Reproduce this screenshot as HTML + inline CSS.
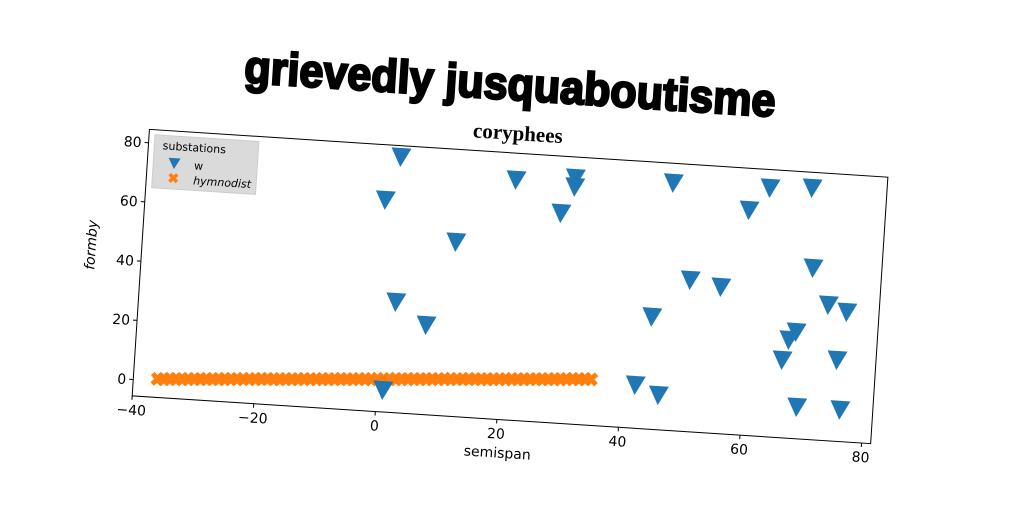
<!DOCTYPE html>
<html><head><meta charset="utf-8"><style>
html,body{margin:0;padding:0;background:#fff;width:1024px;height:512px;overflow:hidden}
svg{display:block;font-family:"DejaVu Sans","Liberation Sans",sans-serif}
</style></head><body>
<svg id="chart" width="1024" height="512" viewBox="0 0 1024 512">
<g id="rot" transform="rotate(3.7 510 287)">
<text x="497" y="100" text-anchor="middle" font-family="Liberation Sans,sans-serif" font-weight="bold" font-size="46" textLength="532" lengthAdjust="spacingAndGlyphs" stroke="#000" stroke-width="2.4">grievedly jusquaboutisme</text>
<text x="508" y="140" text-anchor="middle" font-family="Liberation Serif,serif" font-weight="bold" font-size="21">coryphees</text>
<rect x="140" y="153" width="740" height="267" fill="none" stroke="#000" stroke-width="1"/>
<g id="xticks"></g>
<g id="yticks"></g>
<g id="marks"></g>
<text x="508" y="458" text-anchor="middle" font-size="14">semispan</text>
<text x="0" y="0" transform="translate(94 272) rotate(-90)" text-anchor="middle" font-size="14" font-style="italic">formby</text>
<g>
<rect x="146" y="158" width="104" height="53" fill="#d6d6d6" fill-opacity="0.9" stroke="#ccc"/>
<text x="186" y="172" text-anchor="middle" font-size="11">substations</text>
<path d="M161,180 L173,180 L167,191 Z" fill="#1f77b4"/>
<text x="187" y="190" font-size="11">w</text>
<path id="lgx" fill="#ff7f0e"/>
<text x="187" y="205" font-size="11" font-style="italic">hymnodist</text>
</g>
</g>
</svg>
<script>
const wX=[1.5,-0.6,2.2,7.4,11.4,20.6,28.3,30.3,30.3,46.4,59.1,62.3,69.2,70.2,50.2,55.3,44.3,73.1,76.2,68.1,67.0,66.1,75.1,42.3,46.2,1.0,69.0,76.1];
const wY=[80.7,65.9,31.8,24.7,53.3,75.5,65.3,77.4,74.4,77.9,70.4,78.3,79.2,52.3,45.6,43.9,32.4,40.2,38.2,30.4,27.6,20.7,21.9,9.1,6.2,1.9,5.2,5.2];
const hX=[-36,-35,-34,-33,-32,-31,-30,-29,-28,-27,-26,-25,-24,-23,-22,-21,-20,-19,-18,-17,-16,-15,-14,-13,-12,-11,-10,-9,-8,-7,-6,-5,-4,-3,-2,-1,0,1,2,3,4,5,6,7,8,9,10,11,12,13,14,15,16,17,18,19,20,21,22,23,24,25,26,27,28,29,30,31,32,33,34,35];
const hY=[0.7,0.8,1.0,1.1,1.2,1.4,1.5,1.6,1.8,1.9,2.0,2.2,2.3,2.4,2.6,2.7,2.8,3.0,3.1,3.2,3.3,3.5,3.6,3.7,3.9,4.0,4.1,4.3,4.4,4.5,4.7,4.8,4.9,5.1,5.2,5.3,5.5,5.6,5.7,5.9,6.0,6.1,6.3,6.4,6.5,6.7,6.8,6.9,7.1,7.2,7.3,7.5,7.6,7.7,7.8,8.0,8.1,8.2,8.4,8.5,8.6,8.8,8.9,9.0,9.2,9.3,9.4,9.6,9.7,9.8,10.0,10.1];
const xTickVals=[-40,-20,0,20,40,60,80];
const yTickVals=[0,20,40,60,80];
const xMin=-40,xMax=81.5,yMin=-5.5,yMax=84.5;
const L=140,T=153,W=740,H=267;
const NS="http://www.w3.org/2000/svg";
function sx(v){return L+(v-xMin)/(xMax-xMin)*W;}
function sy(v){return T+(yMax-v)/(yMax-yMin)*H;}
function mk(tag,attrs,parent){const e=document.createElementNS(NS,tag);for(const k in attrs)e.setAttribute(k,attrs[k]);parent.appendChild(e);return e;}
function xPath(cx,cy,r){const a=r*0.5;
return `M${cx-r},${cy-r+a}L${cx-r+a},${cy-r}L${cx},${cy-a}L${cx+r-a},${cy-r}L${cx+r},${cy-r+a}L${cx+a},${cy}L${cx+r},${cy+r-a}L${cx+r-a},${cy+r}L${cx},${cy+a}L${cx-r+a},${cy+r}L${cx-r},${cy+r-a}L${cx-a},${cy}Z`;}
document.getElementById('lgx').setAttribute('d',xPath(167,200,5));
const xt=document.getElementById('xticks');
xTickVals.forEach(v=>{
 const x=sx(v);
 const l=mk('line',{x1:x,x2:x,y1:T+H,y2:T+H+4,stroke:'#000'},xt);
 
 
 const t=mk('text',{x:x,y:T+H+19,'text-anchor':'middle','font-size':14},xt);
 t.textContent=(v<0?'\u2212'+(-v):v);
 
 
});
const yt=document.getElementById('yticks');
yTickVals.forEach(v=>{
 const y=sy(v);
 const l=mk('line',{x1:L-4,x2:L,y1:y,y2:y,stroke:'#000'},yt);
 
 
 const t=mk('text',{x:L-7,y:y+5,'text-anchor':'end','font-size':14},yt);
 t.textContent=v;
 
 
});
const g=document.getElementById('marks');
hX.forEach((v,i)=>{
 const p=mk('path',{d:xPath(sx(v),sy(hY[i]),7),fill:'#ff7f0e'},g);
 
 
});
wX.forEach((v,i)=>{
 const cx=sx(v),cy=sy(wY[i]);
 const p=mk('path',{d:`M${cx-10},${cy-9}L${cx+10},${cy-9}L${cx},${cy+10}Z`,fill:'#1f77b4'},g);
 
 
});
</script>
</body></html>
